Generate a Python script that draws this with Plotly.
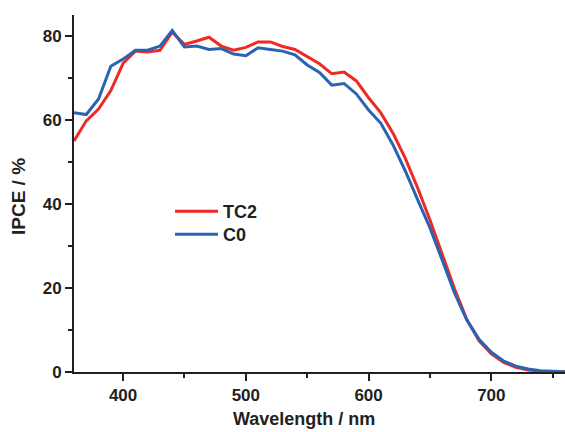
import plotly.graph_objects as go

wavelength = [360, 370, 380, 390, 400, 410, 420, 430, 440, 450, 460, 470, 480, 490, 500,
              510, 520, 530, 540, 550, 560, 570, 580, 590, 600, 610, 620, 630, 640, 650,
              660, 670, 680, 690, 700, 710, 720, 730, 740, 750, 760]

ipce_tc2 = [55.0, 59.8, 62.6, 67.0, 73.5, 76.4, 76.2, 76.6, 80.9, 78.0, 78.8, 79.7, 77.6, 76.6, 77.3,
            78.6, 78.6, 77.5, 76.8, 75.0, 73.4, 71.0, 71.4, 69.3, 65.3, 61.7, 56.8, 50.8, 43.8, 36.2,
            28.0, 19.8, 12.5, 7.4, 4.3, 2.3, 1.1, 0.5, 0.2, 0.05, 0.0]

ipce_c0 = [61.7, 61.3, 65.0, 72.8, 74.5, 76.6, 76.6, 77.6, 81.3, 77.4, 77.6, 76.8, 77.0, 75.7, 75.3,
           77.2, 76.8, 76.4, 75.5, 73.1, 71.3, 68.3, 68.7, 66.2, 62.4, 59.2, 54.0, 47.8, 41.0, 34.3,
           26.6, 18.8, 12.4, 7.8, 4.7, 2.6, 1.4, 0.7, 0.3, 0.1, 0.05]

series_names = ["TC2", "C0"]
x_ticks = [400, 500, 600, 700]
y_ticks = [0, 20, 40, 60, 80]

RED = "#EE2A24"
BLUE = "#2B63B3"
INK = "#231F20"
FONT = "Liberation Sans, Arial, sans-serif"

fig = go.Figure()
fig.add_trace(go.Scatter(x=wavelength, y=ipce_tc2, mode="lines", name=series_names[0],
                         line=dict(color=RED, width=3), legend="legend"))
fig.add_trace(go.Scatter(x=wavelength, y=ipce_c0, mode="lines", name=series_names[1],
                         line=dict(color=BLUE, width=3), legend="legend2"))

axis_common = dict(showline=True, linecolor=INK, linewidth=2, ticks="outside", ticklen=7,
                   tickwidth=2, tickcolor=INK, showgrid=False, zeroline=False,
                   tickfont=dict(family=FONT, size=17, color=INK, weight="bold"))

fig.update_xaxes(range=[360, 760], tickvals=x_ticks,
                 minor=dict(dtick=50, tick0=350, ticks="outside", ticklen=4, tickwidth=2,
                            tickcolor=INK, showgrid=False),
                 **axis_common)
fig.update_yaxes(range=[0, 85], tickvals=y_ticks,
                 minor=dict(dtick=10, tick0=0, ticks="outside", ticklen=4, tickwidth=2,
                            tickcolor=INK, showgrid=False),
                 **axis_common)

fig.add_annotation(text="<b>Wavelength / nm</b>", xref="paper", yref="paper",
                   x=(304 - 74) / 491, y=-(419 - 372) / 357, showarrow=False,
                   font=dict(family=FONT, size=18, color=INK), xanchor="center", yanchor="middle")
fig.add_annotation(text="<b>IPCE / %</b>", xref="paper", yref="paper",
                   x=-(74 - 18) / 491, y=(372 - 197) / 357, showarrow=False, textangle=-90,
                   font=dict(family=FONT, size=19, color=INK), xanchor="center", yanchor="middle")

legend_font = dict(family=FONT, size=18, color=INK, weight="bold")
fig.update_layout(
    width=565, height=432,
    margin=dict(l=74, r=0, t=15, b=60),
    plot_bgcolor="white", paper_bgcolor="white",
    showlegend=True,
    legend=dict(x=(170 - 74) / 491, y=(372 - 193) / 357, xanchor="left", yanchor="top",
                bgcolor="rgba(0,0,0,0)", itemwidth=43, font=legend_font),
    legend2=dict(x=(170 - 74) / 491, y=(372 - 216) / 357, xanchor="left", yanchor="top",
                 bgcolor="rgba(0,0,0,0)", itemwidth=43, font=legend_font),
)

fig.write_html("out.html", config={"displayModeBar": False},
               post_script="document.body.style.margin='0px';")
